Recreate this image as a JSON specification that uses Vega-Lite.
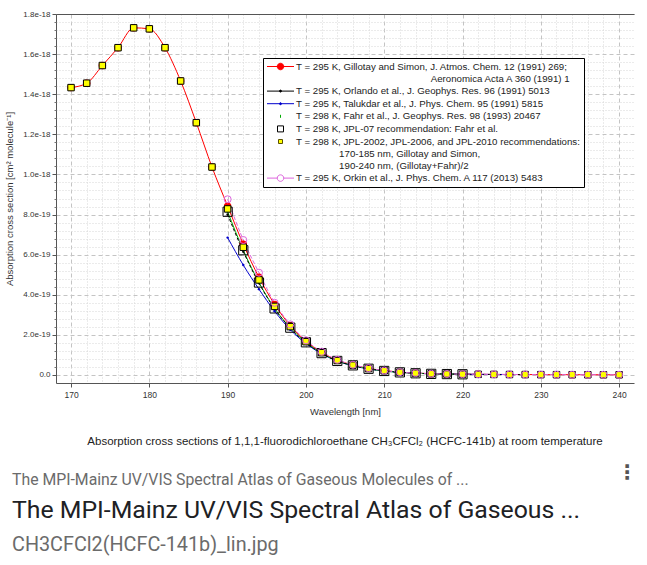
{
  "$schema": "https://vega.github.io/schema/vega-lite/v6.json",
  "background": "white",
  "padding": {"left": 4, "top": 10, "right": 0, "bottom": 0},
  "spacing": 14,
  "config": {
    "view": {"stroke": null},
    "font": "Liberation Sans",
    "legend": {
      "labelFont": "Liberation Sans",
      "labelFontSize": 9.7,
      "labelColor": "#222",
      "labelLimit": 400
    }
  },
  "datasets": {
    "spectra": [
      {"series": "G", "nm": 170, "sigma": 1.433e-18}, {"series": "G", "nm": 172, "sigma": 1.455e-18},
      {"series": "G", "nm": 174, "sigma": 1.543e-18}, {"series": "G", "nm": 176, "sigma": 1.632e-18},
      {"series": "G", "nm": 178, "sigma": 1.731e-18}, {"series": "G", "nm": 180, "sigma": 1.726e-18},
      {"series": "G", "nm": 182, "sigma": 1.632e-18}, {"series": "G", "nm": 184, "sigma": 1.466e-18},
      {"series": "G", "nm": 186, "sigma": 1.258e-18}, {"series": "G", "nm": 188, "sigma": 1.037e-18},
      {"series": "G", "nm": 190, "sigma": 0.842e-18}, {"series": "G", "nm": 192, "sigma": 0.652e-18},
      {"series": "G", "nm": 194, "sigma": 0.487e-18}, {"series": "G", "nm": 196, "sigma": 0.352e-18},
      {"series": "G", "nm": 198, "sigma": 0.246e-18}, {"series": "G", "nm": 200, "sigma": 0.169e-18},
      {"series": "G", "nm": 202, "sigma": 0.113e-18}, {"series": "G", "nm": 204, "sigma": 0.074e-18},
      {"series": "G", "nm": 206, "sigma": 0.050e-18}, {"series": "G", "nm": 208, "sigma": 0.033e-18},
      {"series": "G", "nm": 210, "sigma": 0.022e-18}, {"series": "G", "nm": 212, "sigma": 0.014e-18},
      {"series": "G", "nm": 214, "sigma": 0.0095e-18}, {"series": "G", "nm": 216, "sigma": 0.0065e-18},
      {"series": "G", "nm": 218, "sigma": 0.005e-18}, {"series": "G", "nm": 220, "sigma": 0.004e-18},
      {"series": "G", "nm": 222, "sigma": 0.0033e-18}, {"series": "G", "nm": 224, "sigma": 0.0028e-18},
      {"series": "G", "nm": 226, "sigma": 0.0024e-18}, {"series": "G", "nm": 228, "sigma": 0.002e-18},
      {"series": "G", "nm": 230, "sigma": 0.0018e-18}, {"series": "G", "nm": 232, "sigma": 0.0016e-18},
      {"series": "G", "nm": 234, "sigma": 0.0014e-18}, {"series": "G", "nm": 236, "sigma": 0.0012e-18},
      {"series": "G", "nm": 238, "sigma": 0.0011e-18}, {"series": "G", "nm": 240, "sigma": 0.001e-18},

      {"series": "O", "nm": 190, "sigma": 0.800e-18}, {"series": "O", "nm": 192, "sigma": 0.615e-18},
      {"series": "O", "nm": 194, "sigma": 0.458e-18}, {"series": "O", "nm": 196, "sigma": 0.330e-18},
      {"series": "O", "nm": 198, "sigma": 0.234e-18}, {"series": "O", "nm": 200, "sigma": 0.161e-18},
      {"series": "O", "nm": 202, "sigma": 0.108e-18}, {"series": "O", "nm": 204, "sigma": 0.070e-18},
      {"series": "O", "nm": 206, "sigma": 0.047e-18}, {"series": "O", "nm": 208, "sigma": 0.031e-18},
      {"series": "O", "nm": 210, "sigma": 0.020e-18}, {"series": "O", "nm": 212, "sigma": 0.013e-18},
      {"series": "O", "nm": 214, "sigma": 0.009e-18}, {"series": "O", "nm": 216, "sigma": 0.006e-18},
      {"series": "O", "nm": 218, "sigma": 0.0047e-18}, {"series": "O", "nm": 220, "sigma": 0.0037e-18},
      {"series": "O", "nm": 222, "sigma": 0.003e-18}, {"series": "O", "nm": 224, "sigma": 0.0025e-18},
      {"series": "O", "nm": 226, "sigma": 0.002e-18}, {"series": "O", "nm": 228, "sigma": 0.0017e-18},

      {"series": "T", "nm": 190, "sigma": 0.685e-18}, {"series": "T", "nm": 192, "sigma": 0.548e-18},
      {"series": "T", "nm": 194, "sigma": 0.428e-18}, {"series": "T", "nm": 196, "sigma": 0.318e-18},
      {"series": "T", "nm": 198, "sigma": 0.226e-18}, {"series": "T", "nm": 200, "sigma": 0.157e-18},
      {"series": "T", "nm": 202, "sigma": 0.106e-18}, {"series": "T", "nm": 204, "sigma": 0.069e-18},
      {"series": "T", "nm": 206, "sigma": 0.046e-18}, {"series": "T", "nm": 208, "sigma": 0.030e-18},
      {"series": "T", "nm": 210, "sigma": 0.020e-18}, {"series": "T", "nm": 212, "sigma": 0.013e-18},
      {"series": "T", "nm": 214, "sigma": 0.009e-18}, {"series": "T", "nm": 216, "sigma": 0.006e-18},
      {"series": "T", "nm": 218, "sigma": 0.0048e-18}, {"series": "T", "nm": 220, "sigma": 0.0038e-18},
      {"series": "T", "nm": 222, "sigma": 0.003e-18}, {"series": "T", "nm": 224, "sigma": 0.0025e-18},
      {"series": "T", "nm": 226, "sigma": 0.002e-18},

      {"series": "F", "nm": 190, "sigma": 0.814e-18}, {"series": "F", "nm": 192, "sigma": 0.622e-18},
      {"series": "F", "nm": 194, "sigma": 0.461e-18}, {"series": "F", "nm": 196, "sigma": 0.332e-18},
      {"series": "F", "nm": 198, "sigma": 0.236e-18}, {"series": "F", "nm": 200, "sigma": 0.163e-18},
      {"series": "F", "nm": 202, "sigma": 0.109e-18}, {"series": "F", "nm": 204, "sigma": 0.070e-18},
      {"series": "F", "nm": 206, "sigma": 0.048e-18}, {"series": "F", "nm": 208, "sigma": 0.031e-18},
      {"series": "F", "nm": 210, "sigma": 0.020e-18}, {"series": "F", "nm": 212, "sigma": 0.013e-18},
      {"series": "F", "nm": 214, "sigma": 0.0085e-18}, {"series": "F", "nm": 216, "sigma": 0.0055e-18},
      {"series": "F", "nm": 218, "sigma": 0.0045e-18}, {"series": "F", "nm": 220, "sigma": 0.0035e-18},

      {"series": "J07", "nm": 190, "sigma": 0.814e-18}, {"series": "J07", "nm": 192, "sigma": 0.622e-18},
      {"series": "J07", "nm": 194, "sigma": 0.461e-18}, {"series": "J07", "nm": 196, "sigma": 0.332e-18},
      {"series": "J07", "nm": 198, "sigma": 0.236e-18}, {"series": "J07", "nm": 200, "sigma": 0.163e-18},
      {"series": "J07", "nm": 202, "sigma": 0.109e-18}, {"series": "J07", "nm": 204, "sigma": 0.070e-18},
      {"series": "J07", "nm": 206, "sigma": 0.048e-18}, {"series": "J07", "nm": 208, "sigma": 0.031e-18},
      {"series": "J07", "nm": 210, "sigma": 0.020e-18}, {"series": "J07", "nm": 212, "sigma": 0.013e-18},
      {"series": "J07", "nm": 214, "sigma": 0.0085e-18}, {"series": "J07", "nm": 216, "sigma": 0.0055e-18},
      {"series": "J07", "nm": 218, "sigma": 0.0045e-18}, {"series": "J07", "nm": 220, "sigma": 0.0035e-18},

      {"series": "JPL", "nm": 170, "sigma": 1.433e-18}, {"series": "JPL", "nm": 172, "sigma": 1.455e-18},
      {"series": "JPL", "nm": 174, "sigma": 1.543e-18}, {"series": "JPL", "nm": 176, "sigma": 1.632e-18},
      {"series": "JPL", "nm": 178, "sigma": 1.731e-18}, {"series": "JPL", "nm": 180, "sigma": 1.726e-18},
      {"series": "JPL", "nm": 182, "sigma": 1.632e-18}, {"series": "JPL", "nm": 184, "sigma": 1.466e-18},
      {"series": "JPL", "nm": 186, "sigma": 1.258e-18}, {"series": "JPL", "nm": 188, "sigma": 1.037e-18},
      {"series": "JPL", "nm": 190, "sigma": 0.828e-18}, {"series": "JPL", "nm": 192, "sigma": 0.637e-18},
      {"series": "JPL", "nm": 194, "sigma": 0.474e-18}, {"series": "JPL", "nm": 196, "sigma": 0.342e-18},
      {"series": "JPL", "nm": 198, "sigma": 0.241e-18}, {"series": "JPL", "nm": 200, "sigma": 0.166e-18},
      {"series": "JPL", "nm": 202, "sigma": 0.111e-18}, {"series": "JPL", "nm": 204, "sigma": 0.072e-18},
      {"series": "JPL", "nm": 206, "sigma": 0.049e-18}, {"series": "JPL", "nm": 208, "sigma": 0.032e-18},
      {"series": "JPL", "nm": 210, "sigma": 0.021e-18}, {"series": "JPL", "nm": 212, "sigma": 0.0135e-18},
      {"series": "JPL", "nm": 214, "sigma": 0.009e-18}, {"series": "JPL", "nm": 216, "sigma": 0.006e-18},
      {"series": "JPL", "nm": 218, "sigma": 0.0048e-18}, {"series": "JPL", "nm": 220, "sigma": 0.0038e-18},
      {"series": "JPL", "nm": 222, "sigma": 0.0032e-18}, {"series": "JPL", "nm": 224, "sigma": 0.0027e-18},
      {"series": "JPL", "nm": 226, "sigma": 0.0023e-18}, {"series": "JPL", "nm": 228, "sigma": 0.002e-18},
      {"series": "JPL", "nm": 230, "sigma": 0.0017e-18}, {"series": "JPL", "nm": 232, "sigma": 0.0015e-18},
      {"series": "JPL", "nm": 234, "sigma": 0.0013e-18}, {"series": "JPL", "nm": 236, "sigma": 0.0012e-18},
      {"series": "JPL", "nm": 238, "sigma": 0.001e-18}, {"series": "JPL", "nm": 240, "sigma": 0.001e-18},

      {"series": "K", "nm": 190, "sigma": 0.876e-18}, {"series": "K", "nm": 192, "sigma": 0.673e-18},
      {"series": "K", "nm": 194, "sigma": 0.510e-18}, {"series": "K", "nm": 196, "sigma": 0.360e-18},
      {"series": "K", "nm": 198, "sigma": 0.252e-18}, {"series": "K", "nm": 200, "sigma": 0.173e-18},
      {"series": "K", "nm": 202, "sigma": 0.116e-18}, {"series": "K", "nm": 204, "sigma": 0.076e-18},
      {"series": "K", "nm": 206, "sigma": 0.051e-18}, {"series": "K", "nm": 208, "sigma": 0.034e-18},
      {"series": "K", "nm": 210, "sigma": 0.022e-18}, {"series": "K", "nm": 212, "sigma": 0.014e-18},
      {"series": "K", "nm": 214, "sigma": 0.0095e-18}, {"series": "K", "nm": 216, "sigma": 0.0065e-18},
      {"series": "K", "nm": 218, "sigma": 0.005e-18}, {"series": "K", "nm": 220, "sigma": 0.004e-18},
      {"series": "K", "nm": 222, "sigma": 0.0033e-18}, {"series": "K", "nm": 224, "sigma": 0.0028e-18},
      {"series": "K", "nm": 226, "sigma": 0.0024e-18}, {"series": "K", "nm": 228, "sigma": 0.002e-18},
      {"series": "K", "nm": 230, "sigma": 0.0018e-18}, {"series": "K", "nm": 232, "sigma": 0.0016e-18},
      {"series": "K", "nm": 234, "sigma": 0.0014e-18}, {"series": "K", "nm": 236, "sigma": 0.0012e-18},
      {"series": "K", "nm": 238, "sigma": 0.0011e-18}, {"series": "K", "nm": 240, "sigma": 0.001e-18}
    ],
    "footer": [
      {"row": 1, "text": "The MPI-Mainz UV/VIS Spectral Atlas of Gaseous Molecules of ..."},
      {"row": 2, "text": "The MPI-Mainz UV/VIS Spectral Atlas of Gaseous ..."},
      {"row": 3, "text": "CH3CFCl2(HCFC-141b)_lin.jpg"}
    ]
  },
  "vconcat": [
    {
      "width": 578,
      "height": 369,
      "data": {"name": "spectra"},
      "title": {
        "text": "Absorption cross sections of 1,1,1-fluorodichloroethane CH₃CFCl₂ (HCFC-141b) at room temperature",
        "orient": "bottom",
        "anchor": "middle",
        "fontSize": 11.5,
        "fontWeight": "normal",
        "font": "Liberation Sans",
        "color": "#222",
        "offset": 20
      },
      "resolve": {"axis": {"x": "independent", "y": "independent"}},
      "layer": [
        {
          "transform": [{"filter": "datum.series === 'G' || datum.series === 'T' || datum.series === 'F'"}],
          "mark": {"type": "line", "strokeWidth": 1, "interpolate": "monotone"},
          "encoding": {
            "x": {
              "field": "nm", "type": "quantitative",
              "scale": {"domain": [168.08, 241.9], "nice": false, "zero": false},
              "axis": {
                "orient": "bottom",
                "values": [170, 180, 190, 200, 210, 220, 230, 240],
                "grid": true, "gridColor": "#c4c4c4", "gridDash": [4, 3],
                "domainColor": "#555", "tickColor": "#555", "tickSize": 4,
                "labelFontSize": 8.5, "labelColor": "#333", "labelPadding": 3,
                "labelFlush": false, "labelOverlap": false,
                "title": "Wavelength [nm]", "titleFontSize": 9.5, "titleFontWeight": "normal",
                "titleColor": "#333", "titlePadding": 8
              }
            },
            "y": {
              "field": "sigma", "type": "quantitative",
              "scale": {"domain": [-4e-20, 1.8e-18], "nice": false, "zero": false},
              "axis": {
                "orient": "left",
                "values": [0, 2e-19, 4e-19, 6e-19, 8e-19, 1e-18, 1.2e-18, 1.4e-18, 1.6e-18, 1.8e-18],
                "labelExpr": "datum.value == 0 ? '0.0' : format(datum.value, '.1e')",
                "grid": true, "gridColor": "#c4c4c4", "gridDash": [4, 3],
                "domainColor": "#555", "tickColor": "#555", "tickSize": 4,
                "labelFontSize": 8, "labelColor": "#333", "labelPadding": 2,
                "labelFlush": false, "labelOverlap": false,
                "title": "Absorption cross section [cm² molecule⁻¹]", "titleFontSize": 9.5,
                "titleFontWeight": "normal", "titleColor": "#333", "titlePadding": 8
              }
            },
            "stroke": {
              "field": "series", "type": "nominal",
              "scale": {"domain": ["G", "O", "T", "F", "J07", "JPL", "K"], "range": ["#ff0000", "#000000", "#0000cc", "#00aa00", "#000000", "#5a5000", "#dd66dd"]},
              "legend": {
                "title": null, "orient": "none", "legendX": 207, "legendY": 44, "direction": "vertical",
                "fillColor": "white", "strokeColor": "#000000", "padding": 3, "rowPadding": 1.6,
                "labelBaseline": "top", "symbolOffset": 9, "labelOffset": 10, "symbolOpacity": 1,
                "labelExpr": "datum.value === 'G' ? ['T = 295 K, Gillotay and Simon, J. Atmos. Chem. 12 (1991) 269;', '\u200b' + pad('Aeronomica Acta A 360 (1991) 1', 55, '\u2007', 'left')] : datum.value === 'O' ? 'T = 295 K, Orlando et al., J. Geophys. Res. 96 (1991) 5013' : datum.value === 'T' ? 'T = 295 K, Talukdar et al., J. Phys. Chem. 95 (1991) 5815' : datum.value === 'F' ? 'T = 298 K, Fahr et al., J. Geophys. Res. 98 (1993) 20467' : datum.value === 'J07' ? 'T = 298 K, JPL-07 recommendation: Fahr et al.' : datum.value === 'JPL' ? ['T = 298 K, JPL-2002, JPL-2006, and JPL-2010 recommendations:', '\u200b' + pad('170-185 nm, Gillotay and Simon,', 39, '\u2007', 'left'), '\u200b' + pad('190-240 nm, (Gillotay+Fahr)/2', 37, '\u2007', 'left')] : 'T = 295 K, Orkin et al., J. Phys. Chem. A 117 (2013) 5483'",
                "encode": {
                  "symbols": {
                    "update": {
                      "shape": {"signal": "datum.value === 'G' ? 'M-2.7,0H2.7M0.65,0A0.65,0.65,0,1,1,-0.65,0A0.65,0.65,0,1,1,0.65,0Z' : (datum.value === 'O' || datum.value === 'T') ? 'M-2.7,0H2.7M0.2,0A0.2,0.2,0,1,1,-0.2,0A0.2,0.2,0,1,1,0.2,0Z' : datum.value === 'F' ? 'M0,-0.3V0.3' : datum.value === 'J07' ? 'M-0.6,-0.6H0.6V0.6H-0.6Z' : datum.value === 'JPL' ? 'M-0.4,-0.4H0.4V0.4H-0.4Z' : 'M-2.7,0H-0.65M0.65,0H2.7M0.65,0A0.65,0.65,0,1,1,-0.65,0A0.65,0.65,0,1,1,0.65,0Z'"},
                      "fill": {"signal": "datum.value === 'G' ? '#ff0000' : datum.value === 'O' ? '#000000' : datum.value === 'T' ? '#0000cc' : datum.value === 'F' ? '#00aa00' : datum.value === 'JPL' ? '#ffff00' : 'transparent'"},
                      "size": {"value": 100},
                      "strokeWidth": {"value": 1},
                      "opacity": {"value": 1}
                    }
                  },
                  "labels": {
                    "update": {"dy": {"value": -5}, "lineHeight": {"value": 12.1}}
                  }
                }
              }
            }
          }
        },
        {
          "transform": [{"filter": "datum.series === 'O'"}],
          "mark": {"type": "line", "color": "#000000", "strokeWidth": 1, "strokeDash": [3, 2], "interpolate": "monotone"},
          "encoding": {
            "x": {
              "field": "nm", "type": "quantitative",
              "axis": {
                "orient": "bottom",
                "values": [172, 174, 176, 178, 182, 184, 186, 188, 192, 194, 196, 198, 202, 204, 206, 208, 212, 214, 216, 218, 222, 224, 226, 228, 232, 234, 236, 238],
                "grid": true, "gridColor": "#d6d6d6", "gridDash": [1, 2],
                "labels": false, "ticks": false, "domain": false, "title": null
              }
            },
            "y": {
              "field": "sigma", "type": "quantitative",
              "axis": {
                "orient": "left",
                "values": [4e-20, 8e-20, 1.2e-19, 1.6e-19, 2.4e-19, 2.8e-19, 3.2e-19, 3.6e-19, 4.4e-19, 4.8e-19, 5.2e-19, 5.6e-19, 6.4e-19, 6.8e-19, 7.2e-19, 7.6e-19, 8.4e-19, 8.8e-19, 9.2e-19, 9.6e-19, 1.04e-18, 1.08e-18, 1.12e-18, 1.16e-18, 1.24e-18, 1.28e-18, 1.32e-18, 1.36e-18, 1.44e-18, 1.48e-18, 1.52e-18, 1.56e-18, 1.64e-18, 1.68e-18, 1.72e-18, 1.76e-18],
                "grid": true, "gridColor": "#d6d6d6", "gridDash": [1, 2],
                "labels": false, "ticks": true, "tickSize": 2, "tickColor": "#777",
                "domain": false, "title": null
              }
            }
          }
        },
        {
          "transform": [{"filter": "datum.series === 'K'"}],
          "mark": {"type": "line", "color": "#dd66dd", "strokeWidth": 1, "strokeDash": [4, 2], "interpolate": "monotone"},
          "encoding": {
            "x": {
              "field": "nm", "type": "quantitative",
              "axis": {"orient": "top", "domain": true, "domainColor": "#555", "labels": false, "ticks": false, "grid": false, "title": null}
            },
            "y": {"field": "sigma", "type": "quantitative", "axis": null}
          }
        },
        {
          "transform": [{"filter": "datum.series === 'G'"}],
          "mark": {"type": "point", "shape": "circle", "size": 55, "filled": true, "color": "#ff0000", "opacity": 1},
          "encoding": {
            "x": {"field": "nm", "type": "quantitative", "axis": null},
            "y": {"field": "sigma", "type": "quantitative", "axis": null}
          }
        },
        {
          "transform": [{"filter": "datum.series === 'O'"}],
          "mark": {"type": "point", "shape": "circle", "size": 6, "filled": true, "color": "#000000", "opacity": 1},
          "encoding": {
            "x": {"field": "nm", "type": "quantitative", "axis": null},
            "y": {"field": "sigma", "type": "quantitative", "axis": null}
          }
        },
        {
          "transform": [{"filter": "datum.series === 'T'"}],
          "mark": {"type": "point", "shape": "circle", "size": 6, "filled": true, "color": "#0000cc", "opacity": 1},
          "encoding": {
            "x": {"field": "nm", "type": "quantitative", "axis": null},
            "y": {"field": "sigma", "type": "quantitative", "axis": null}
          }
        },
        {
          "transform": [{"filter": "datum.series === 'F'"}],
          "mark": {"type": "point", "shape": "circle", "size": 5, "filled": true, "color": "#00aa00", "opacity": 1},
          "encoding": {
            "x": {"field": "nm", "type": "quantitative", "axis": null},
            "y": {"field": "sigma", "type": "quantitative", "axis": null}
          }
        },
        {
          "transform": [{"filter": "datum.series === 'J07'"}],
          "mark": {"type": "point", "shape": "square", "size": 85, "filled": false, "color": "#000000", "strokeWidth": 1, "opacity": 1},
          "encoding": {
            "x": {"field": "nm", "type": "quantitative", "axis": null},
            "y": {"field": "sigma", "type": "quantitative", "axis": null}
          }
        },
        {
          "transform": [{"filter": "datum.series === 'JPL'"}],
          "mark": {"type": "point", "shape": "square", "size": 42, "fill": "#ffff00", "stroke": "#000000", "strokeWidth": 1, "opacity": 1},
          "encoding": {
            "x": {"field": "nm", "type": "quantitative", "axis": null},
            "y": {"field": "sigma", "type": "quantitative", "axis": null}
          }
        },
        {
          "transform": [{"filter": "datum.series === 'K'"}],
          "mark": {"type": "point", "shape": "circle", "size": 50, "filled": false, "color": "#dd66dd", "strokeWidth": 1, "opacity": 1},
          "encoding": {
            "x": {"field": "nm", "type": "quantitative", "axis": null},
            "y": {"field": "sigma", "type": "quantitative", "axis": null}
          }
        }
      ]
    },
    {
      "width": 581,
      "height": 100,
      "data": {"name": "footer"},
      "encoding": {
        "y": {"field": "row", "type": "ordinal", "axis": null, "scale": {"domain": [1, 2, 3]}},
        "x": {"datum": 0, "type": "quantitative", "scale": {"domain": [0, 1]}, "axis": null},
        "text": {"field": "text"}
      },
      "layer": [
        {
          "transform": [{"filter": "datum.row === 1"}],
          "mark": {"type": "text", "align": "left", "baseline": "alphabetic", "dx": -44, "font": "Roboto", "fontSize": 15.8, "color": "#6b6b6b"}
        },
        {
          "transform": [{"filter": "datum.row === 2"}],
          "mark": {"type": "text", "align": "left", "baseline": "alphabetic", "dx": -44, "font": "Roboto", "fontSize": 24.8, "color": "#202124"}
        },
        {
          "transform": [{"filter": "datum.row === 3"}],
          "mark": {"type": "text", "align": "left", "baseline": "alphabetic", "dx": -44, "font": "Roboto", "fontSize": 19.8, "color": "#6b6b6b"}
        },
        {
          "transform": [{"filter": "datum.row === 1"}],
          "mark": {"type": "text", "align": "right", "baseline": "middle", "dy": -12, "font": "DejaVu Sans", "fontSize": 20, "fontWeight": "bold", "color": "#555"},
          "encoding": {
            "x": {"datum": 1, "type": "quantitative"},
            "y": {"field": "row", "type": "ordinal", "axis": null, "scale": {"domain": [1, 2, 3]}},
            "text": {"value": "⋮"}
          }
        }
      ]
    }
  ]
}
